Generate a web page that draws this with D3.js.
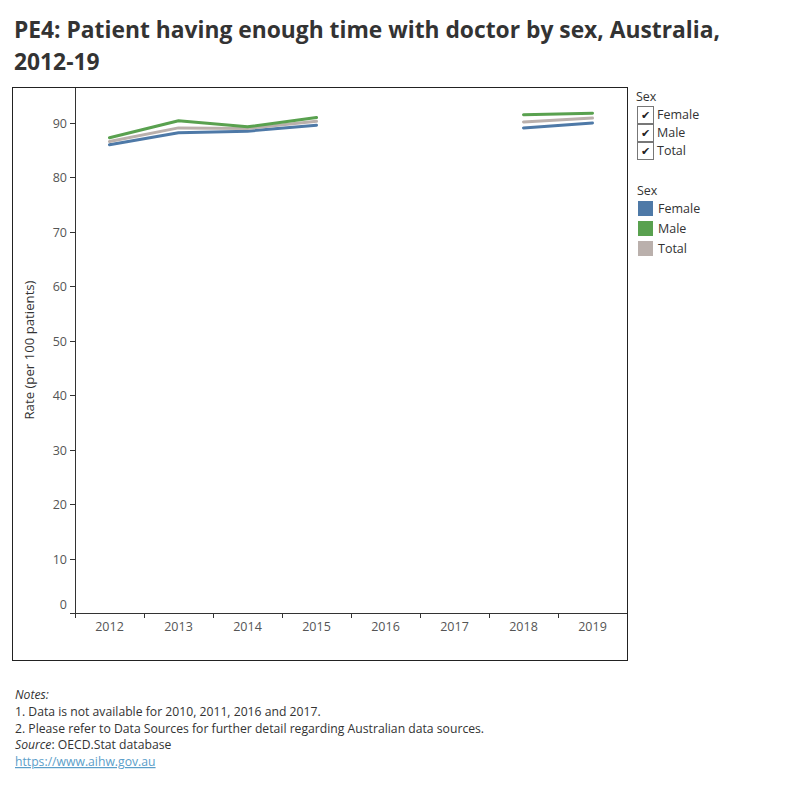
<!DOCTYPE html>
<html><head><meta charset="utf-8">
<script src="https://cdn.jsdelivr.net/npm/d3@7"></script>
<style>
body{margin:0;background:#fff;font-family:"Open Sans","Noto Sans",sans-serif;}
</style></head>
<body>
<svg id="chart" width="800" height="800"></svg>
<script>
const years = ["2012","2013","2014","2015","2016","2017","2018","2019"];
const seriesNames = ["Female","Male","Total"];
const colors = ["#4e79a7","#59a14f","#bab0ac"];
const female = [86.0, 88.2, 88.5, 89.6, null, null, 89.1, 90.0];
const male   = [87.3, 90.4, 89.3, 91.0, null, null, 91.5, 91.8];
const total  = [86.6, 89.1, 89.0, 90.3, null, null, 90.2, 90.9];
const yTicks = [0,10,20,30,40,50,60,70,80,90];

(function(){
const svg = d3.select("#chart");
const ff = '"Open Sans","Noto Sans",sans-serif';

svg.append("text").attr("x",14).attr("y",38).attr("font-size",22.8).attr("font-weight","bold")
  .attr("fill","#333").attr("font-family",ff)
  .text("PE4: Patient having enough time with doctor by sex, Australia,");
svg.append("text").attr("x",14).attr("y",70).attr("font-size",22.8).attr("font-weight","bold")
  .attr("fill","#333").attr("font-family",ff).text("2012-19");

svg.append("rect").attr("x",12.5).attr("y",87.5).attr("width",615).attr("height",573)
  .attr("fill","none").attr("stroke","#222").attr("stroke-width",1);

const pLeft = 75, pRight = 627, pTop = 88, pBottom = 613;
const x = d3.scaleBand().domain(years).range([pLeft,pRight]);
const y = d3.scaleLinear().domain([0,90]).range([pBottom,123]);

const yAxis = svg.append("g").attr("transform",`translate(${pLeft},0)`);
yAxis.append("line").attr("x1",0.5).attr("x2",0.5).attr("y1",pTop).attr("y2",pBottom+5).attr("stroke","#333");
yTicks.forEach(t=>{
  const yy = Math.round(y(t))+0.5;
  yAxis.append("line").attr("x1",-5).attr("x2",0).attr("y1",yy).attr("y2",yy).attr("stroke","#333");
  yAxis.append("text").attr("x",-8).attr("y", t===0 ? yy-9 : yy).attr("dy","0.35em")
    .attr("text-anchor","end").attr("font-size",12.5).attr("fill","#555").attr("font-family",ff).text(t);
});
svg.append("text").attr("transform","translate(34,350) rotate(-90)").attr("text-anchor","middle")
  .attr("font-size",13.2).attr("fill","#333").attr("font-family",ff).text("Rate (per 100 patients)");

const xAxis = svg.append("g").attr("transform",`translate(0,${pBottom})`);
xAxis.append("line").attr("x1",pLeft).attr("x2",pRight).attr("y1",0.5).attr("y2",0.5).attr("stroke","#333");
years.forEach(yr=>{
  const xx = Math.round(x(yr))+0.5;
  xAxis.append("line").attr("x1",xx).attr("x2",xx).attr("y1",0).attr("y2",5).attr("stroke","#333");
  xAxis.append("text").attr("x",x(yr)+x.bandwidth()/2).attr("y",18).attr("text-anchor","middle")
    .attr("font-size",12.5).attr("fill","#555").attr("font-family",ff).text(yr);
});

const data = [female, male, total];
const line = d3.line().defined(d=>d.v!=null).x(d=>x(d.yr)+x.bandwidth()/2).y(d=>y(d.v));
[0,2,1].forEach(i=>{
  const pts = years.map((yr,j)=>({yr:yr,v:data[i][j]}));
  svg.append("path").attr("d",line(pts)).attr("fill","none").attr("stroke",colors[i])
    .attr("stroke-width",3).attr("stroke-linejoin","round").attr("stroke-linecap","round");
});

svg.append("text").attr("x",636).attr("y",101).attr("font-size",12.5).attr("fill","#333").attr("font-family",ff).text("Sex");
seriesNames.forEach((n,i)=>{
  const yy = 106 + i*18;
  svg.append("rect").attr("x",637.5).attr("y",yy+0.5).attr("width",16).attr("height",17)
    .attr("fill","#fff").attr("stroke","#777");
  svg.append("text").attr("x",645.5).attr("y",yy+13).attr("text-anchor","middle").attr("font-size",11)
    .attr("fill","#222").attr("font-family","DejaVu Sans").text("\u2714");
  svg.append("text").attr("x",657).attr("y",yy+13).attr("font-size",12.5).attr("fill","#333").attr("font-family",ff).text(n);
});

svg.append("text").attr("x",637).attr("y",195).attr("font-size",12.5).attr("fill","#333").attr("font-family",ff).text("Sex");
seriesNames.forEach((n,i)=>{
  const yy = 201 + i*20;
  svg.append("rect").attr("x",638).attr("y",yy).attr("width",15).attr("height",15).attr("fill",colors[i]);
  svg.append("text").attr("x",658).attr("y",yy+12).attr("font-size",12.5).attr("fill","#333").attr("font-family",ff).text(n);
});

const notes = svg.append("g").attr("font-size",12.2).attr("fill","#333").attr("font-family",ff);
notes.append("text").attr("x",15).attr("y",699).attr("font-style","italic").text("Notes:");
notes.append("text").attr("x",15).attr("y",716).text("1. Data is not available for 2010, 2011, 2016 and 2017.");
notes.append("text").attr("x",15).attr("y",733).text("2. Please refer to Data Sources for further detail regarding Australian data sources.");
const src = notes.append("text").attr("x",15).attr("y",749);
src.append("tspan").attr("font-style","italic").text("Source");
src.append("tspan").text(": OECD.Stat database");
notes.append("text").attr("x",15).attr("y",766).attr("fill","#5b9ec9").attr("text-decoration","underline").text("https://www.aihw.gov.au");
})();
</script>
</body></html>
